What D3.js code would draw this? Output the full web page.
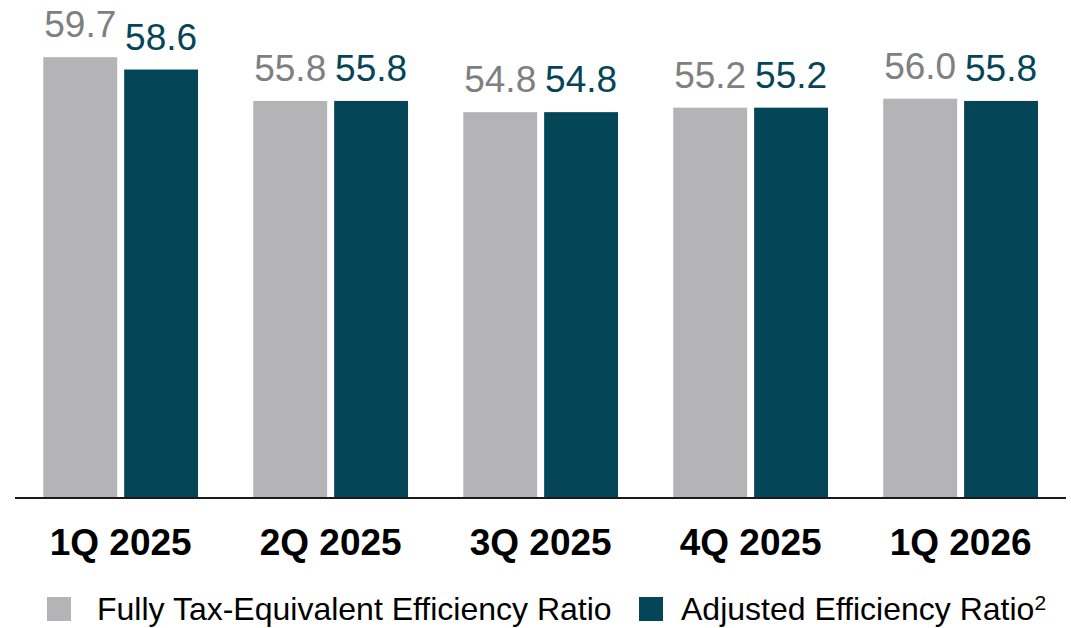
<!DOCTYPE html>
<html>
<head>
<meta charset="utf-8">
<script src="https://cdn.jsdelivr.net/npm/d3@7"></script>
<style>
  body { margin: 0; background: #fff; }
  svg { display: block; font-family: "Liberation Sans", Arial, sans-serif; }
</style>
</head>
<body>
<svg id="chart" width="1071" height="628"></svg>
<script>
// data
var quarters = ["1Q 2025", "2Q 2025", "3Q 2025", "4Q 2025", "1Q 2026"];
var fteRatio = [59.7, 55.8, 54.8, 55.2, 56.0];
var adjRatio = [58.6, 55.8, 54.8, 55.2, 55.8];
var seriesNames = ["Fully Tax-Equivalent Efficiency Ratio", "Adjusted Efficiency Ratio"];

var colors = { fte: "#b4b4b6", adj: "#054558", fteText: "#7f7f7f" };

var svg = d3.select("#chart");
var baseY = 497;

// group scale (one band per quarter)
var x0 = d3.scaleBand()
  .domain(quarters)
  .range([43.3, 1038])
  .paddingInner(0.263)
  .paddingOuter(0);

// two bars inside a group
var x1 = d3.scaleBand()
  .domain(["fte", "adj"])
  .range([0, x0.bandwidth()])
  .paddingInner(0.0864)
  .paddingOuter(0);

// value axis is not drawn, bars start from an offset baseline
var y = d3.scaleLinear()
  .domain([20.5, 60])
  .range([baseY, baseY - 39.5 * 11.22]);

var rows = quarters.map(function(q, i) {
  return { q: q, fte: fteRatio[i], adj: adjRatio[i] };
});

var groups = svg.append("g").attr("class", "bars")
  .selectAll("g")
  .data(rows)
  .enter().append("g")
  .attr("transform", function(d) { return "translate(" + x0(d.q) + ",0)"; });

var bars = groups.selectAll("g.bar")
  .data(function(d) { return [{ k: "fte", v: d.fte }, { k: "adj", v: d.adj }]; })
  .enter().append("g").attr("class", "bar");

bars.append("rect")
  .attr("x", function(d) { return x1(d.k); })
  .attr("y", function(d) { return y(d.v); })
  .attr("width", x1.bandwidth())
  .attr("height", function(d) { return baseY - y(d.v); })
  .attr("fill", function(d) { return colors[d.k]; });

bars.append("text")
  .attr("x", function(d) { return x1(d.k) + x1.bandwidth() / 2; })
  .attr("y", function(d) { return y(d.v) - 20; })
  .attr("text-anchor", "middle")
  .attr("font-size", 37)
  .attr("fill", function(d) { return d.k == "fte" ? colors.fteText : colors.adj; })
  .text(function(d) { return d3.format(".1f")(d.v); });

// baseline
svg.append("line")
  .attr("x1", 15).attr("x2", 1066)
  .attr("y1", baseY + 1).attr("y2", baseY + 1)
  .attr("stroke", "#1a1a1a")
  .attr("stroke-width", 2);

// category labels
var xAxis = svg.append("g")
  .attr("transform", "translate(0," + baseY + ")")
  .call(d3.axisBottom(x0).tickSize(0));
xAxis.select(".domain").remove();
xAxis.selectAll("text")
  .attr("y", 58)
  .attr("dy", 0)
  .attr("font-family", "Liberation Sans, Arial, sans-serif")
  .attr("font-size", 37)
  .attr("font-weight", "bold")
  .attr("fill", "#000");

// legend
var legend = svg.append("g").attr("class", "legend");
var legendItems = [
  { x: 47, tx: 97, name: seriesNames[0], color: colors.fte, sup: "" },
  { x: 639, tx: 681, name: seriesNames[1], color: colors.adj, sup: "2" }
];
legendItems.forEach(function(it) {
  legend.append("rect")
    .attr("x", it.x).attr("y", 597)
    .attr("width", 24).attr("height", 24)
    .attr("fill", it.color);
  var t = legend.append("text")
    .attr("x", it.tx)
    .attr("y", 620)
    .attr("font-size", 32)
    .attr("fill", "#000")
    .text(it.name);
  if (it.sup) {
    t.append("tspan")
      .attr("font-size", 21)
      .attr("dy", -10)
      .text(it.sup);
  }
});
</script>
</body>
</html>
